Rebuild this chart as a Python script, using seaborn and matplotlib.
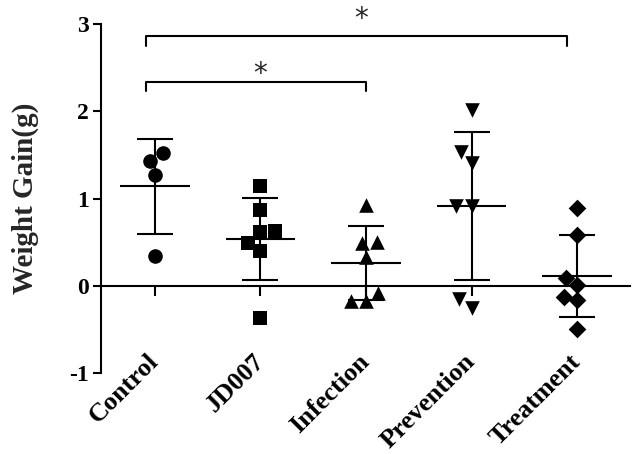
# Weight gain dot plot (mean ± SD) per group

import numpy as np
import matplotlib
matplotlib.use("Agg")
import matplotlib.pyplot as plt
import seaborn as sns

# data
groups = ["Control", "JD007", "Infection", "Prevention", "Treatment"]
control = [1.43, 1.52, 1.27, 0.34]
jd007 = [1.14, 0.87, 0.625, 0.62, 0.485, 0.40, -0.37]
infection = [0.93, 0.49, 0.50, 0.33, -0.08, -0.18, -0.18]
prevention = [2.02, 1.53, 1.41, 0.91, 0.91, -0.15, -0.25]
treatment = [0.89, 0.58, 0.09, 0.01, -0.13, -0.16, -0.49]
markers = ["o", "s", "^", "v", "D"]
sizes = [10.5, 10, 10.5, 10.5, 9]
yticks = [-1, 0, 1, 2, 3]

# significance brackets: (x start, x end, bracket height, star height)
brackets = [(-0.08, 2.0, 2.34, 2.43), (-0.08, 3.9, 2.86, 3.06)]

sns.set_style("ticks")
plt.rcParams["font.family"] = ["Liberation Serif", "DejaVu Serif"]

fig = plt.figure(figsize=(6.33, 4.54), dpi=100)
ax = fig.add_axes([0.1596, 0.1784, 0.8357, 0.7687])

values = [control, jd007, infection, prevention, treatment]
for g, vals, m, s in zip(groups, values, markers, sizes):
    sns.swarmplot(x=[g] * len(vals), y=vals, order=groups, marker=m,
                  color="black", size=s, ax=ax, zorder=3, linewidth=0)

means = [np.mean(v) for v in values]
sds = [np.std(v, ddof=1) for v in values]
pos = np.arange(len(groups))
ax.errorbar(pos, means, yerr=sds, fmt="none", ecolor="black",
            elinewidth=1.5, capsize=13, capthick=1.5, zorder=2)
ax.hlines(means, pos - 0.33, pos + 0.33, color="black", lw=1.5, zorder=2)

for x1, x2, h, sy in brackets:
    ax.plot([x1, x1, x2, x2], [h - 0.11, h, h, h - 0.11], color="black",
            lw=1.5, clip_on=False)
    ax.text((x1 + x2) / 2 + 0.04, sy, "*", ha="center", va="center",
            fontsize=20, family="DejaVu Sans", clip_on=False)

ax.set_xlim(-0.51, 4.5)
ax.set_ylim(-1, 3)
ax.set_yticks(yticks)
ax.set_yticklabels([str(t) for t in yticks], fontsize=17, fontweight="bold")

ax.spines["top"].set_visible(False)
ax.spines["right"].set_visible(False)
ax.spines["bottom"].set_position(("data", 0))
for sp in ["left", "bottom"]:
    ax.spines[sp].set_linewidth(1.5)
    ax.spines[sp].set_color("black")

ax.tick_params(axis="y", length=6, width=1.5, pad=3, colors="black")
ax.tick_params(axis="x", length=7, width=1.5, pad=45, colors="black")
ax.set_xticks(pos)
ax.set_xticklabels(groups, fontsize=19, fontweight="bold", rotation=45,
                   ha="right", va="center", rotation_mode="anchor")

ax.set_xlabel("")
ax.set_ylabel("Weight Gain(g)", fontsize=21, fontweight="bold")
ax.yaxis.set_label_coords(-0.118, 0.5)

fig.savefig("out.png", dpi=100)
